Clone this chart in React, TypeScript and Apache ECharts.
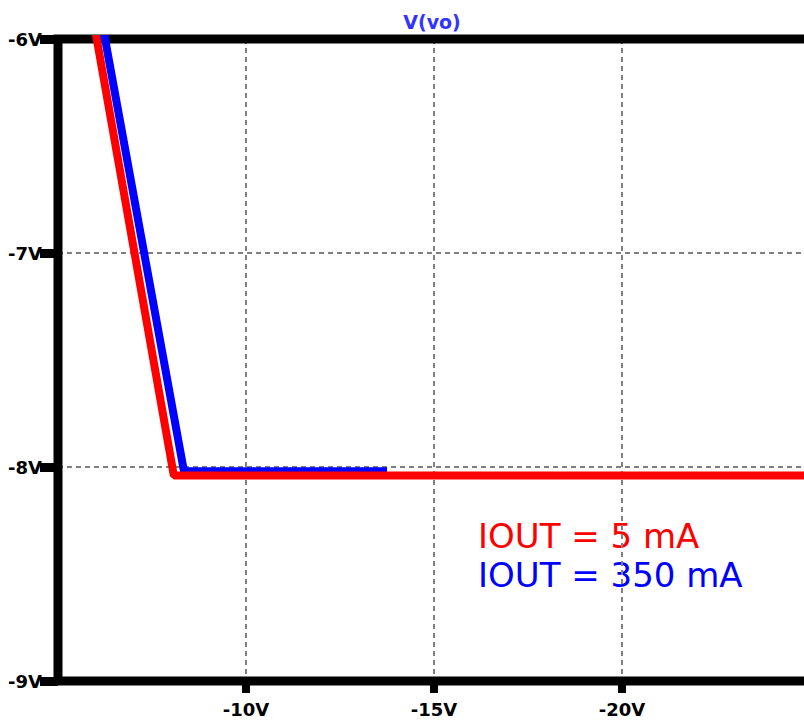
import React, { useEffect, useRef } from "react";
import * as echarts from "echarts";

const xTickValues = [-10, -15, -20];
const yTickValues = [-6, -7, -8, -9];

// IOUT = 5 mA
const vinRed = [-6.0, -8.08, -25];
const voRed = [-5.97, -8.04, -8.04];
// IOUT = 350 mA
const vinBlue = [-6.2, -8.35, -13.75];
const voBlue = [-5.95, -8.02, -8.02];

const titleText = "V(vo)";
const legendRed = "IOUT = 5 mA";
const legendBlue = "IOUT = 350 mA";

const FONT = "'DejaVu Sans', Verdana, sans-serif";

export default function App() {
  const ref = useRef<HTMLDivElement>(null);
  useEffect(() => {
    document.body.style.margin = "0";
    const chart = echarts.init(ref.current!, undefined, { renderer: "svg" });
    const zip = (xs: number[], ys: number[]) => xs.map((x, i) => [x, ys[i]]);
    chart.setOption({
      animation: false,
      backgroundColor: "#ffffff",
      grid: {
        left: 58,
        top: 39,
        width: 752,
        height: 642,
        outerBoundsMode: "none",
        containLabel: false,
        show: true,
        borderColor: "#000000",
        borderWidth: 9,
        backgroundColor: "transparent",
        z: 2,
      },
      xAxis: {
        type: "value",
        min: -25,
        max: -5,
        interval: 5,
        inverse: true,
        z: 1,
        axisLine: { show: false },
        axisTick: {
          show: true,
          length: 12,
          lineStyle: { color: "#000", width: 8 },
          customValues: xTickValues,
        },
        axisLabel: {
          customValues: xTickValues,
          formatter: (v: number) => `${v}V`,
          color: "#000",
          fontWeight: "bold",
          fontSize: 18,
          fontFamily: FONT,
          margin: 19,
        },
        splitLine: {
          show: true,
          lineStyle: { color: "#808080", width: 2, type: [5, 4] },
        },
      },
      yAxis: {
        type: "value",
        min: -9,
        max: -6,
        interval: 1,
        z: 1,
        axisLine: { show: false },
        axisTick: {
          show: true,
          length: 18,
          lineStyle: { color: "#000", width: 9 },
          customValues: yTickValues,
        },
        axisLabel: {
          customValues: yTickValues,
          formatter: (v: number) => `${v}V`,
          color: "#000",
          fontWeight: "bold",
          fontSize: 18,
          fontFamily: FONT,
          margin: 16,
        },
        splitLine: {
          show: true,
          lineStyle: { color: "#808080", width: 2, type: [5, 4] },
        },
      },
      series: [
        {
          type: "line",
          data: zip(vinBlue, voBlue),
          showSymbol: false,
          symbol: "none",
          lineStyle: { color: "#0000ff", width: 8 },
          z: 3,
        },
        {
          type: "line",
          data: zip(vinRed, voRed),
          showSymbol: false,
          symbol: "none",
          lineStyle: { color: "#ff0000", width: 8 },
          z: 4,
        },
      ],
      graphic: [
        {
          type: "text",
          x: 432,
          y: 22,
          style: {
            text: titleText,
            fill: "#3333ff",
            font: `bold 19px ${FONT}`,
            textAlign: "center",
            textVerticalAlign: "middle",
          },
        },
        {
          type: "text",
          x: 478,
          y: 536,
          style: {
            text: legendRed,
            fill: "#ff0000",
            font: `34px ${FONT}`,
            textAlign: "left",
            textVerticalAlign: "middle",
          },
        },
        {
          type: "text",
          x: 478,
          y: 575,
          style: {
            text: legendBlue,
            fill: "#0000ff",
            font: `34px ${FONT}`,
            textAlign: "left",
            textVerticalAlign: "middle",
          },
        },
      ],
    });
    return () => chart.dispose();
  }, []);
  return <div ref={ref} style={{ width: 804, height: 721 }} />;
}
